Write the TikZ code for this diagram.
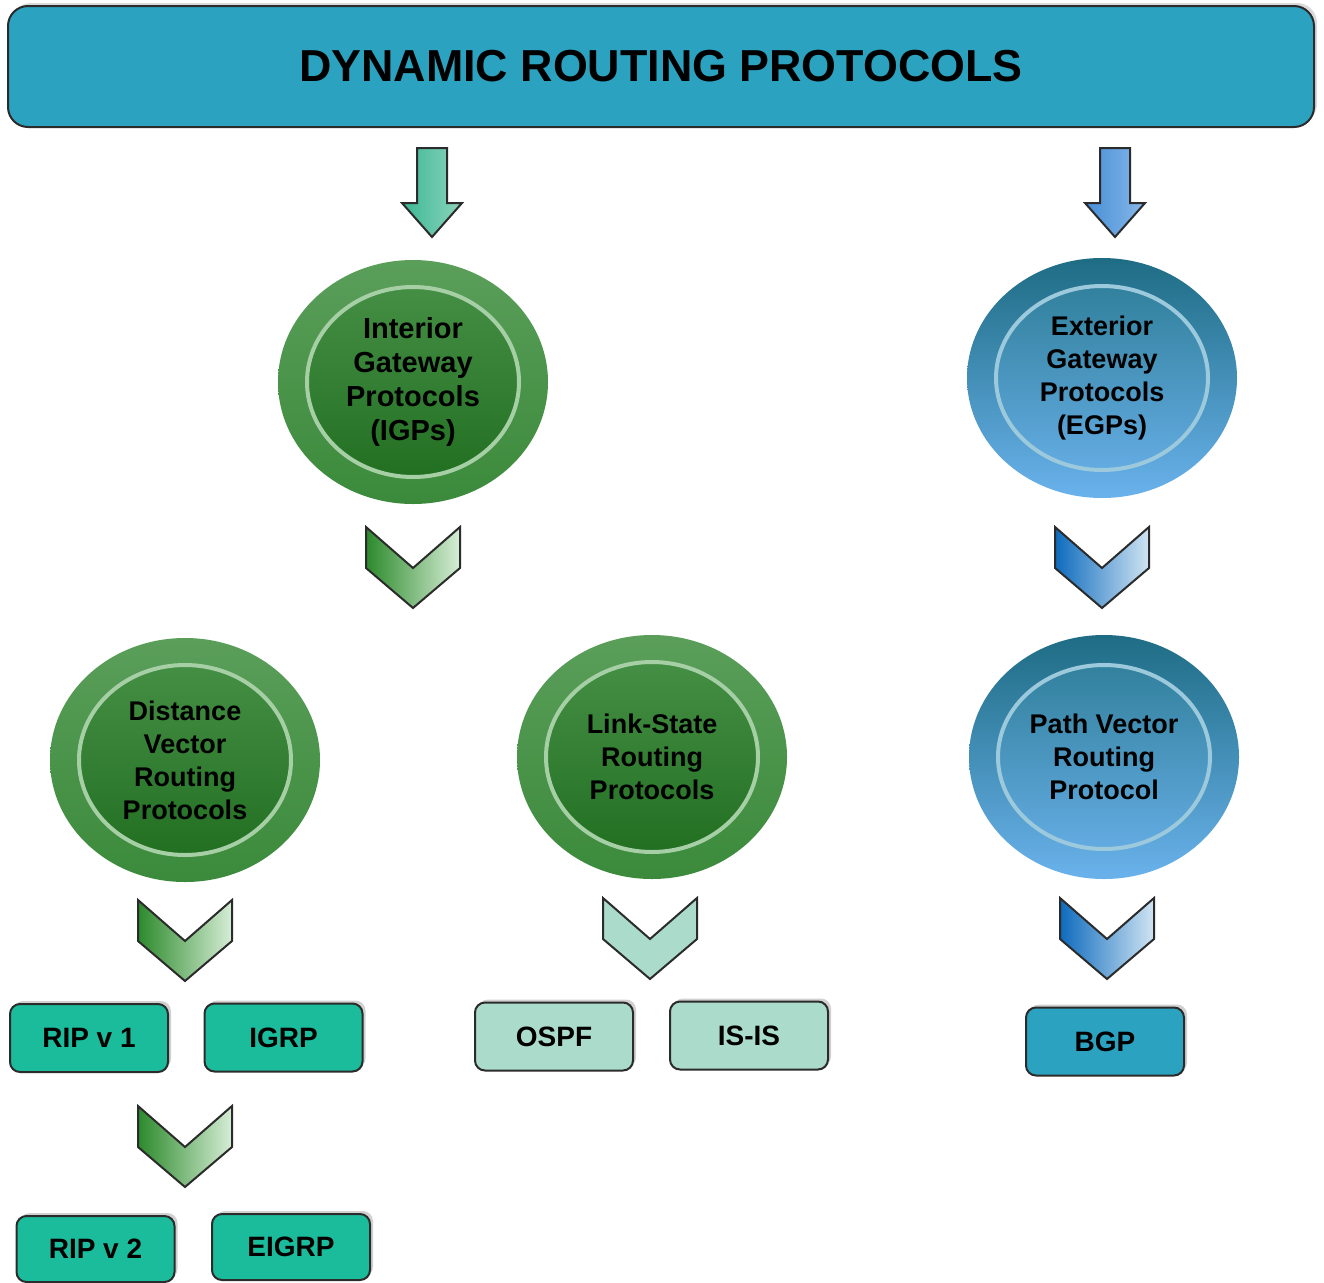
\documentclass[tikz,border=0pt]{standalone}
\usepackage{fontspec}
\setmainfont{Liberation Sans}
\usetikzlibrary{shapes.geometric,shadows}
\definecolor{titleblue}{HTML}{2BA2BF}
\definecolor{boxgreen}{HTML}{1ABC9C}
\definecolor{boxpale}{HTML}{ABDBCB}
\definecolor{edgegrey}{HTML}{2B2B2B}
\definecolor{ringgreen}{HTML}{A6CFA6}
\definecolor{ringblue}{HTML}{9CC9DC}
\definecolor{ballgreentop}{HTML}{5A9E5A}
\definecolor{ballgreenbot}{HTML}{3B8A3B}
\definecolor{coregreentop}{HTML}{4A934A}
\definecolor{coregreenbot}{HTML}{1D6B1D}
\definecolor{ballbluetop}{HTML}{1E6C84}
\definecolor{ballbluebot}{HTML}{6AB2EC}
\definecolor{corebluetop}{HTML}{2A7A92}
\definecolor{corebluebot}{HTML}{6BB2ED}
\tikzset{every node/.append style={font=\bfseries}}
\tikzset{
  box/.style={draw=edgegrey, line width=2, rounded corners=10, inner sep=0,
    minimum width=158, minimum height=68, font=\bfseries\fontsize{28}{34}\selectfont,
    drop shadow={shadow xshift=3, shadow yshift=-3, fill=black, opacity=0.18}},
  greenball/.style={ellipse, inner sep=0, minimum width=270, minimum height=244, align=center,
    top color=ballgreentop, bottom color=ballgreenbot,
    font=\bfseries\fontsize{27}{33}\selectfont,
    path picture={\shadedraw[top color=coregreentop, bottom color=coregreenbot,
      draw=ringgreen, line width=4] (path picture bounding box.center) ellipse [x radius=106, y radius=95];}},
  blueball/.style={ellipse, inner sep=0, minimum width=270, minimum height=240, align=center,
    top color=ballbluetop, bottom color=ballbluebot,
    font=\bfseries\fontsize{27}{33}\selectfont,
    path picture={\shadedraw[top color=corebluetop, bottom color=corebluebot,
      draw=ringblue, line width=4] (path picture bounding box.center) ellipse [x radius=106, y radius=92];}},
  greenchev/.style={draw=edgegrey, line width=2, left color={rgb,255:red,44;green,138;blue,44}, right color={rgb,255:red,214;green,237;blue,214}},
  bluechev/.style={draw=edgegrey, line width=2, left color={rgb,255:red,14;green,107;blue,190}, right color={rgb,255:red,208;green,228;blue,242}},
  palechev/.style={draw=edgegrey, line width=2, fill=boxpale},
  chevron/.pic={\path[pic actions] (-47,0) -- (0,41) -- (47,0) -- (47,41) -- (0,81) -- (-47,41) -- cycle;},
  downarrow/.pic={\path[pic actions] (-15,0) -- (15,0) -- (15,55) -- (30,55) -- (0,89) -- (-30,55) -- (-15,55) -- cycle;}
}

\begin{document}
\begin{tikzpicture}[x=1pt, y=-1pt]
  \useasboundingbox (0,0) rectangle (1324,1282);

  \node[draw=edgegrey, fill=titleblue, line width=2, rounded corners=20, minimum width=1306, minimum height=121,
    font=\bfseries\fontsize{44.8}{50}\selectfont,
    drop shadow={shadow xshift=3, shadow yshift=-3, fill=black, opacity=0.15}] (title) at (661,66.5) {DYNAMIC ROUTING PROTOCOLS};

  \pic[draw=edgegrey, line width=2, left color={rgb,255:red,60;green,184;blue,146}, right color={rgb,255:red,140;green,212;blue,190}] at (432,148) {downarrow};
  \pic[draw=edgegrey, line width=2, left color={rgb,255:red,70;green,142;blue,216}, right color={rgb,255:red,136;green,184;blue,232}] at (1115,148) {downarrow};

  \node[greenball, font=\bfseries\fontsize{29}{34.3}\selectfont] (igp) at (413,382) {Interior\\Gateway\\Protocols\\(IGPs)};
  \node[blueball] (egp) at (1102,378) {Exterior\\Gateway\\Protocols\\(EGPs)};

  \pic[greenchev] at (413,527) {chevron};
  \pic[bluechev] at (1102,527) {chevron};

  \node[greenball] (dv) at (185,760) {Distance\\Vector\\Routing\\Protocols};
  \node[greenball] (ls) at (652,757) {Link-State\\Routing\\Protocols};
  \node[blueball, minimum height=244] (pv) at (1104,757) {Path Vector\\Routing\\Protocol};

  \pic[greenchev] at (185,900) {chevron};
  \pic[palechev] at (650,898) {chevron};
  \pic[bluechev] at (1107,898) {chevron};

  \node[box, fill=boxgreen] (rip1) at (89,1038) {RIP v 1};
  \node[box, fill=boxgreen] (igrp) at (283.5,1037.5) {IGRP};
  \node[box, fill=boxpale] (ospf) at (554,1036.5) {OSPF};
  \node[box, fill=boxpale] (isis) at (749,1035.5) {IS-IS};
  \node[box, fill=titleblue] (bgp) at (1105,1041.5) {BGP};

  \pic[greenchev] at (185,1106) {chevron};

  \node[box, fill=boxgreen, minimum height=66] (rip2) at (95.5,1249) {RIP v 2};
  \node[box, fill=boxgreen, minimum height=66] (eigrp) at (291,1247) {EIGRP};
\end{tikzpicture}
\end{document}
